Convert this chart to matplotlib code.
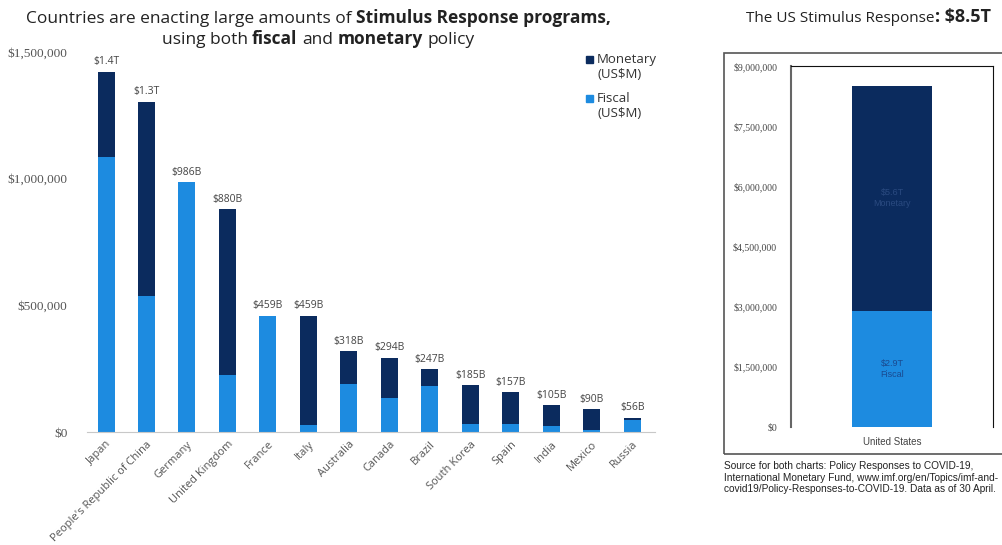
import matplotlib
matplotlib.use("Agg")
import matplotlib.pyplot as plt
from matplotlib.patches import Rectangle
from matplotlib.ticker import FuncFormatter

countries = ["Japan", "People's Republic of China", "Germany", "United Kingdom", "France",
             "Italy", "Australia", "Canada", "Brazil", "South Korea", "Spain", "India",
             "Mexico", "Russia"]
totals = [1421, 1303, 986, 880, 459, 459, 318, 294, 247, 185, 157, 105, 90, 56]  # US$B
fiscal = [1086, 537, 986, 225, 459, 26, 190, 134, 183, 33, 33, 25, 7, 48]        # US$B
labels = ["$1.4T", "$1.3T", "$986B", "$880B", "$459B", "$459B", "$318B", "$294B",
          "$247B", "$185B", "$157B", "$105B", "$90B", "$56B"]
left_ticks = [0, 500000, 1000000, 1500000]

us_fiscal = 2.9e6
us_monetary = 5.6e6
us_ticks = [0, 1.5e6, 3e6, 4.5e6, 6e6, 7.5e6, 9e6]

NAVY = "#0b2b5e"
BLUE = "#1d8be0"
SANS = "Open Sans"
SERIF = "Liberation Serif"

W, H = 1002, 545
fig = plt.figure(figsize=(W / 100, H / 100), dpi=100)

def fx(px):
    return px / W

def fy(py):
    return 1 - py / H

# ---------------- left chart ----------------
ax = fig.add_axes([fx(87), fy(432), fx(655) - fx(87), fy(52) - fy(432)])
x = list(range(len(countries)))
fis = [f * 1000 for f in fiscal]
mon = [(t - f) * 1000 for t, f in zip(totals, fiscal)]
ax.bar(x, fis, width=0.42, color=BLUE, zorder=2)
ax.bar(x, mon, bottom=fis, width=0.42, color=NAVY, zorder=2)
for xi, t, lab in zip(x, totals, labels):
    ax.text(xi, t * 1000 + 18000, lab, ha="center", va="bottom", fontsize=7.5,
            color="#444444", family=SANS)
ax.set_xlim(-0.47, 13.56)
ax.set_ylim(0, 1500000)
ax.set_yticks(left_ticks)
ax.yaxis.set_major_formatter(FuncFormatter(lambda v, p: "${:,.0f}".format(v)))
ax.tick_params(axis="y", length=0, pad=14, labelsize=9.5, labelcolor="#555555")
for lab in ax.get_yticklabels():
    lab.set_family(SERIF)
ax.set_xticks(x)
ax.set_xticklabels(countries, rotation=45, ha="right", rotation_mode="anchor",
                   fontsize=8, color="#555555", family=SANS)
ax.tick_params(axis="x", length=0, pad=5)
for s in ["top", "right", "left"]:
    ax.spines[s].set_visible(False)
ax.spines["bottom"].set_color("#c8c8c8")

# legend
fig.patches.append(Rectangle((fx(586), fy(63)), fx(7), fy(56) - fy(63), color=NAVY,
                             transform=fig.transFigure, figure=fig))
fig.text(fx(597), fy(53), "Monetary\n(US$M)", fontsize=9.5, color="#333333",
         family=SANS, va="top", ha="left", linespacing=1.2)
fig.patches.append(Rectangle((fx(586), fy(102)), fx(7), fy(95) - fy(102), color=BLUE,
                             transform=fig.transFigure, figure=fig))
fig.text(fx(597), fy(92), "Fiscal\n(US$M)", fontsize=9.5, color="#333333",
         family=SANS, va="top", ha="left", linespacing=1.2)

# rich title helper
renderer = fig.canvas.get_renderer()

def rich(cx, y, parts):
    texts = []
    widths = []
    for s, w, sz in parts:
        t = fig.text(0, fy(y), s, weight=w, fontsize=sz, family=SANS, color="#222222",
                     va="baseline", ha="left")
        bb = t.get_window_extent(renderer)
        texts.append(t)
        widths.append(bb.width)
    sp = fig.text(0, 0, "a a", fontsize=parts[0][2], family=SANS)
    sp2 = fig.text(0, 0, "aa", fontsize=parts[0][2], family=SANS)
    space = sp.get_window_extent(renderer).width - sp2.get_window_extent(renderer).width
    sp.remove(); sp2.remove()
    total = sum(widths) + space * (len(parts) - 1)
    cur = cx - total / 2
    for t, wdt in zip(texts, widths):
        t.set_x(fx(cur))
        cur += wdt + space

rich(318, 23, [("Countries are enacting large amounts of", "normal", 12.5),
               ("Stimulus Response programs,", "bold", 12.5)])
rich(318, 44, [("using both", "normal", 12.5), ("fiscal", "bold", 12.5),
               ("and", "normal", 12.5), ("monetary", "bold", 12.5),
               ("policy", "normal", 12.5)])

# ---------------- right chart ----------------
fig.patches.append(Rectangle((fx(724), fy(454)), fx(1010) - fx(724), fy(53) - fy(454),
                             fill=False, edgecolor="#555555", linewidth=1.2,
                             transform=fig.transFigure, figure=fig))
ax2 = fig.add_axes([fx(791), fy(427), fx(993) - fx(791), fy(66) - fy(427)])
ax2.bar([0], [us_fiscal], width=0.4, color=BLUE)
ax2.bar([0], [us_monetary], bottom=[us_fiscal], width=0.4, color=NAVY)
ax2.set_xlim(-0.5, 0.5)
ax2.set_ylim(0, 9e6)
ax2.set_yticks(us_ticks)
ax2.yaxis.set_major_formatter(FuncFormatter(lambda v, p: "${:,.0f}".format(v)))
ax2.tick_params(axis="y", length=0, pad=10, labelsize=7, labelcolor="#444444")
for lab in ax2.get_yticklabels():
    lab.set_family(SERIF)
ax2.set_xticks([0])
ax2.set_xticklabels(["United States"], fontsize=7, color="#444444", family="Liberation Sans")
ax2.tick_params(axis="x", length=0, pad=7)
ax2.spines["bottom"].set_visible(False)
ax2.spines["left"].set_color("#666666")
ax2.spines["left"].set_linewidth(1.5)
ax2.spines["top"].set_color("#111111")
ax2.spines["right"].set_color("#111111")
ax2.text(0, us_fiscal + us_monetary / 2, "$5.6T\nMonetary", ha="center", va="center",
         fontsize=6.5, color="#2a4a80", family="Liberation Sans", linespacing=1.3)
ax2.text(0, us_fiscal / 2, "$2.9T\nFiscal", ha="center", va="center",
         fontsize=6.5, color="#1a4a90", family="Liberation Sans", linespacing=1.3)

# right title
t1 = fig.text(0, fy(22), "The US Stimulus Response", fontsize=11, family=SANS,
              color="#222222", va="baseline", ha="left")
t2 = fig.text(0, fy(22), ": $8.5T", fontsize=13, family=SANS, weight="bold",
              color="#222222", va="baseline", ha="left")
w1 = t1.get_window_extent(renderer).width
w2 = t2.get_window_extent(renderer).width
start = 868 - (w1 + w2) / 2
t1.set_x(fx(start))
t2.set_x(fx(start + w1 + 1))

fig.text(fx(724), fy(461),
         "Source for both charts: Policy Responses to COVID-19,\n"
         "International Monetary Fund, www.imf.org/en/Topics/imf-and-\n"
         "covid19/Policy-Responses-to-COVID-19. Data as of 30 April.",
         fontsize=7.3, family="Liberation Sans", color="#222222", va="top", ha="left",
         linespacing=1.2)

fig.savefig("out.png", dpi=100)
